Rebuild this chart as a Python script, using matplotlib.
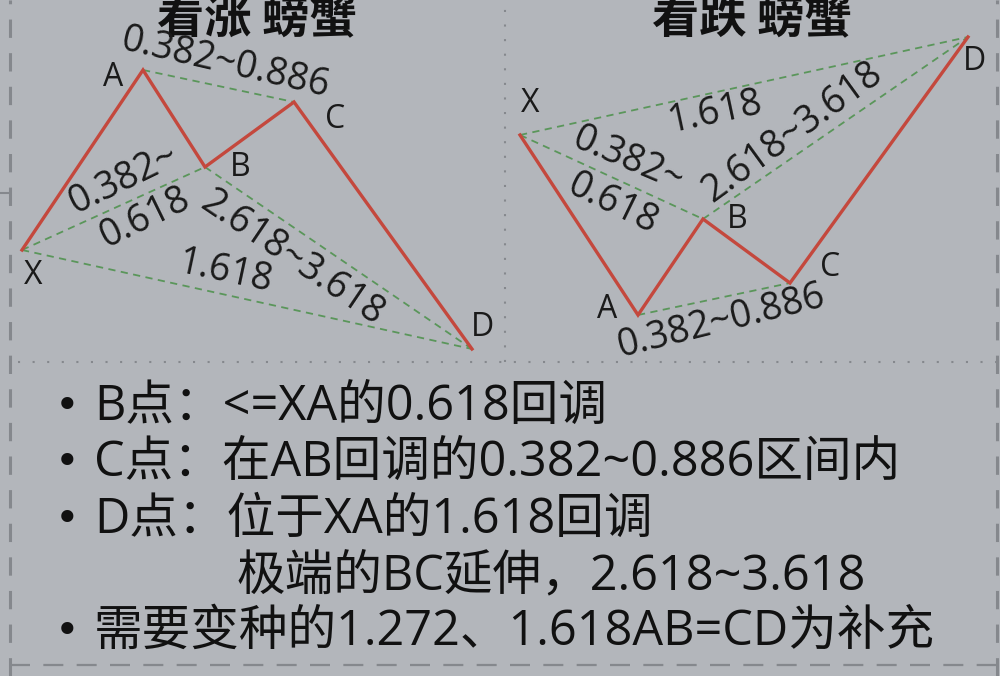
import matplotlib
matplotlib.use("Agg")
import matplotlib.pyplot as plt

plt.rcParams['font.family'] = ['Noto Sans CJK SC', 'DejaVu Sans']
MIX = ['Open Sans', 'Noto Sans CJK SC', 'DejaVu Sans']

# ---- data (pattern points, chart units: x to the right, price upward) ----
point_names = ["X", "A", "B", "C", "D"]
bull_x = [22, 143, 205, 294, 472]
bull_y = [426, 606, 509, 574, 327]
bear_x = [520, 638, 703, 790, 968]
bear_y = [541, 361, 457, 393, 639]

titles = ["看涨 螃蟹", "看跌 螃蟹"]
bullets = [
    "B点：<=XA的0.618回调",
    "C点：在AB回调的0.382~0.886区间内",
    "D点：位于XA的1.618回调",
    "极端的BC延伸，2.618~3.618",
    "需要变种的1.272、1.618AB=CD为补充",
]
bullet_marks = [True, True, True, False, True]

BG = "#b3b6bb"
RED = "#c4483d"
GREEN = "#5a965a"
GRID = "#85888d"

fig = plt.figure(figsize=(10, 6.76), dpi=100, facecolor=BG)
ax = fig.add_axes([0, 0, 1, 1])
ax.set_facecolor(BG)
ax.set_xlim(0, 1000)
ax.set_ylim(0, 676)
ax.axis("off")

# frame lines
ax.plot([10, 10], [0, 676], color=GRID, lw=2.2, ls=(0, (6, 5)))
ax.plot([997, 997], [0, 676], color=GRID, lw=2.2, ls=(0, (6, 5)))
ax.plot([10, 1000], [11, 11], color=GRID, lw=1.6, ls=(0, (9, 6)))
ax.plot([18, 1000], [314, 314], color=GRID, lw=1.5, ls=(0, (1, 6)))
ax.plot([505, 505], [314, 676], color=GRID, lw=1.5, ls=(0, (1, 6)))
ax.plot([0, 10], [483, 483], color=GRID, lw=1.5)

def pattern(xs, ys, lbl_off, green_pairs, texts):
    for i, j in green_pairs:
        ax.plot([xs[i], xs[j]], [ys[i], ys[j]], color=GREEN, lw=1.3,
                ls=(0, (4, 3)), zorder=2)
    ax.plot(xs, ys, color=RED, lw=2.4, zorder=3, solid_joinstyle="miter")
    for k, name in enumerate(point_names):
        dx, dy = lbl_off[k]
        ax.text(xs[k] + dx, ys[k] + dy, name, fontsize=23, ha="center",
                va="center", color="#1a1a1a", zorder=4, family=MIX)
    for (tx, ty, s, rot) in texts:
        ax.text(tx, ty, s, fontsize=27, ha="center", va="center",
                rotation=rot, rotation_mode="anchor", color="#1a1a1a",
                zorder=4, family=MIX)

# bullish crab: green A-C, X-B, B-D, X-D
pattern(bull_x, bull_y,
        [(11, -25), (-30, -8), (35, -1), (41, -18), (10, 21)],
        [(1, 3), (0, 2), (2, 4), (0, 4)],
        [(225, 613, "0.382~0.886", -13),
         (123, 497, "0.382~", 26),
         (145, 458, "0.618", 26),
         (292, 418, "2.618~3.618", -34),
         (225, 404, "1.618", -12)])
# bearish crab: green X-D, X-B, B-D, A-C
pattern(bear_x, bear_y,
        [(10, 32), (-31, 5), (34, -1), (40, 16), (7, -25)],
        [(0, 4), (0, 2), (2, 4), (1, 3)],
        [(715, 564, "1.618", 12),
         (628, 516, "0.382~", -23),
         (612, 472, "0.618", -26),
         (792, 544, "2.618~3.618", 36),
         (721, 354, "0.382~0.886", 14)])

# titles
ax.text(257, 657, titles[0], fontsize=34, fontweight="bold", ha="center",
        va="center", color="#111111")
ax.text(752, 657, titles[1], fontsize=34, fontweight="bold", ha="center",
        va="center", color="#111111")

# bullet list
line_y = [269, 213, 156, 99, 44]
for s, y, has_b in zip(bullets, line_y, bullet_marks):
    if has_b:
        ax.text(67, y, "•", fontsize=30, ha="center", va="center",
                color="#111111", family="DejaVu Sans")
        ax.text(94, y, s, fontsize=35, ha="left", va="center",
                color="#111111", family=MIX)
    else:
        ax.text(236, y, s, fontsize=35, ha="left", va="center",
                color="#111111", family=MIX)

fig.savefig("out.png", dpi=100, facecolor=BG)
